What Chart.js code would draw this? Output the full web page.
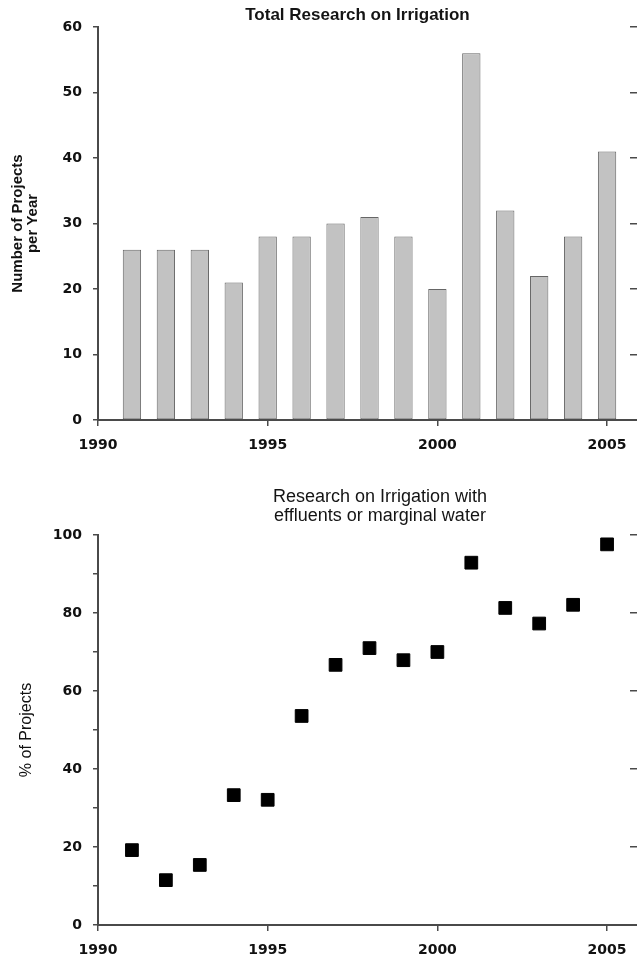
<!DOCTYPE html>
<html>
<head>
<meta charset="utf-8">
<script src="https://cdn.jsdelivr.net/npm/chart.js@4.4.1/dist/chart.umd.min.js"></script>
<style>
html, body { margin: 0; padding: 0; overflow: hidden; background: #fff; }
#page { position: relative; width: 637px; height: 961px; overflow: hidden; }
.box { position: absolute; left: 0; width: 641px; }
#topBox { top: 0; height: 460px; }
#bottomBox { top: 460px; height: 501px; }
.title { position: absolute; left: 0; text-align: center; color: #141414; font-family: "Liberation Sans", Arial, sans-serif; white-space: nowrap; }
#topTitle { top: 5px; width: 715px; font-size: 17px; font-weight: bold; line-height: 20px; }
#bottomTitle { top: 487px; width: 760px; font-size: 18px; line-height: 19px; }
</style>
</head>
<body>
<div id="page">
  <div class="box" id="topBox"><canvas id="countChart"></canvas></div>
  <div class="box" id="bottomBox"><canvas id="shareChart"></canvas></div>
  <div class="title" id="topTitle">Total Research on Irrigation</div>
  <div class="title" id="bottomTitle">Research on Irrigation with<br>effluents or marginal water</div>
</div>
<script>
// values
const years = [1991, 1992, 1993, 1994, 1995, 1996, 1997, 1998, 1999, 2000, 2001, 2002, 2003, 2004, 2005];
const projectCounts = [26, 26, 26, 21, 28, 28, 30, 31, 28, 20, 56, 32, 22, 28, 41];
const marginalShare = [19.2, 11.5, 15.4, 33.3, 32.1, 53.6, 66.7, 71.0, 67.9, 70.0, 92.9, 81.3, 77.3, 82.1, 97.6];

const yearTicks = [1990, 1995, 2000, 2005];
const countTicks = [0, 10, 20, 30, 40, 50, 60];
const shareTicks = [0, 10, 20, 30, 40, 50, 60, 70, 80, 90, 100];
const shareRightTicks = [0, 20, 40, 60, 80, 100];

const axisColor = '#4a4a4a';
const textColor = '#111111';
const tickFont = { family: 'DejaVu Sans', weight: 'bold', size: 14 };

function setTicks(list) {
    return scale => { scale.ticks = list.map(v => ({ value: v })); };
}

function xAxis(height) {
    return {
        type: 'linear',
        min: 1990,
        max: 2006,
        offset: false,
        afterBuildTicks: setTicks(yearTicks),
        afterFit: s => { s.height = height; },
        border: { color: axisColor, width: 2 },
        grid: { drawOnChartArea: false, offset: false, tickLength: 6, color: axisColor, lineWidth: 1.5 },
        ticks: { color: textColor, font: tickFont, padding: 11, maxRotation: 0, callback: v => String(v) }
    };
}

function rightAxis(max, list) {
    return {
        position: 'right',
        min: 0,
        max: max,
        afterBuildTicks: setTicks(list),
        afterFit: s => { s.width = 0; },
        border: { display: false },
        grid: { drawOnChartArea: false, tickLength: -11, color: axisColor, lineWidth: 1.5 },
        ticks: { display: false }
    };
}

new Chart(document.getElementById('countChart'), {
    type: 'bar',
    data: {
        datasets: [{
            data: years.map((y, i) => ({ x: y, y: projectCounts[i] })),
            backgroundColor: '#c2c2c2',
            borderColor: '#666666',
            borderWidth: 1,
            borderSkipped: false,
            barPercentage: 0.54,
            categoryPercentage: 1
        }]
    },
    options: {
        responsive: true,
        maintainAspectRatio: false,
        animation: false,
        layout: { autoPadding: false, padding: { top: 27, left: 0, right: 0, bottom: 0 } },
        plugins: { legend: { display: false }, tooltip: { enabled: false } },
        scales: {
            x: xAxis(40),
            y: {
                min: 0,
                max: 60,
                afterBuildTicks: setTicks(countTicks),
                afterFit: s => { s.width = 98; },
                border: { color: axisColor, width: 2 },
                grid: { drawOnChartArea: false, tickLength: 5, color: axisColor, lineWidth: 1.5 },
                ticks: { color: textColor, font: tickFont, padding: 11 },
                title: {
                    display: true,
                    text: ['Number of Projects', 'per Year'],
                    color: textColor,
                    font: { family: 'Liberation Sans', weight: 'bold', size: 15, lineHeight: 1.0 },
                    padding: { top: 10, bottom: 0 }
                }
            },
            yr: rightAxis(60, countTicks)
        }
    }
});

new Chart(document.getElementById('shareChart'), {
    type: 'scatter',
    data: {
        datasets: [{
            data: years.map((y, i) => ({ x: y, y: marginalShare[i] })),
            pointStyle: 'rect',
            pointRadius: 9,
            backgroundColor: '#000',
            borderColor: '#000',
            borderWidth: 1,
            showLine: false
        }]
    },
    options: {
        responsive: true,
        maintainAspectRatio: false,
        animation: false,
        layout: { autoPadding: false, padding: { top: 75, left: 0, right: 0, bottom: 0 } },
        plugins: { legend: { display: false }, tooltip: { enabled: false } },
        scales: {
            x: xAxis(36),
            y: {
                min: 0,
                max: 100,
                afterBuildTicks: setTicks(shareTicks),
                afterFit: s => { s.width = 98; },
                border: { color: axisColor, width: 2 },
                grid: { drawOnChartArea: false, tickLength: 5, color: axisColor, lineWidth: 1.5 },
                ticks: { color: textColor, font: tickFont, padding: 11, callback: v => (v % 20 === 0 ? String(v) : '') },
                title: {
                    display: true,
                    text: '% of Projects',
                    color: textColor,
                    font: { family: 'Liberation Sans', size: 16, lineHeight: 1.2 },
                    padding: { top: 17, bottom: 0 }
                }
            },
            yr: rightAxis(100, shareRightTicks)
        }
    }
});
</script>
</body>
</html>
